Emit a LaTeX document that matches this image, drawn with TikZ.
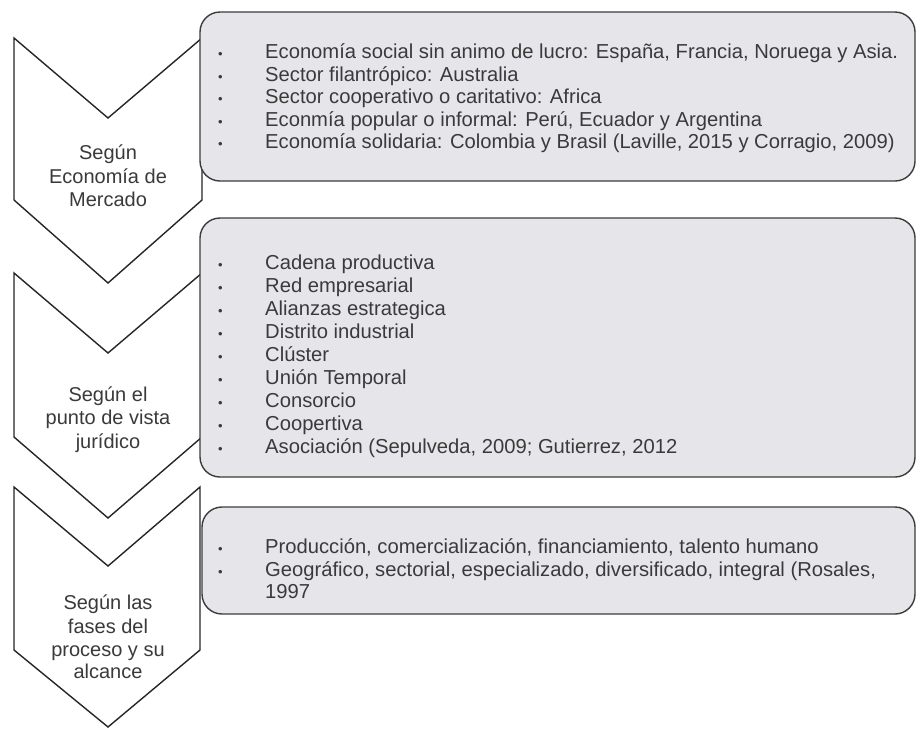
\documentclass[tikz,border=0pt]{standalone}
\usepackage{fontspec}
\setmainfont{Liberation Sans}
\definecolor{panelgray}{RGB}{230,230,234}
\definecolor{txtgray}{RGB}{58,58,58}
\definecolor{edgegray}{RGB}{60,60,60}
\newcommand{\bul}{\makebox[47pt][l]{\fontsize{13}{13}\selectfont\textbullet}}
\begin{document}
\begin{tikzpicture}[x=1pt,y=-1pt,
  chev/.style={draw=black!85,line width=1.4pt,fill=white,line join=miter},
  panel/.style={draw=edgegray,line width=1.4pt,fill=panelgray,rounded corners=20pt},
  itemtxt/.style={anchor=base west,inner sep=0pt,text=txtgray,font=\fontsize{20.2}{23}\selectfont},
  chevtxt/.style={anchor=base,inner sep=0pt,text=txtgray,font=\fontsize{20}{23}\selectfont}]
\useasboundingbox (0,0) rectangle (917,729);
\fill[white] (0,0) rectangle (917,729);

% chevrons
\draw[chev] (14,38) -- (108,118) -- (202,38) -- (202,200) -- (108,283) -- (14,200) -- cycle;
\draw[chev] (14,273) -- (108,353) -- (202,273) -- (202,437) -- (108,518) -- (14,437) -- cycle;
\draw[chev] (14,487) -- (108,566) -- (200,487) -- (200,650) -- (108,727) -- (14,650) -- cycle;

% panels
\draw[panel] (200,12) rectangle (915,181);
\draw[panel] (200,218) rectangle (915,477);
\draw[panel] (202,507) rectangle (915,614);

% chevron texts
\node[chevtxt] (c1a) at (108,159.5) {Según};
\node[chevtxt] (c1b) at (108,183.5) {Economía de};
\node[chevtxt] (c1c) at (108,206.5) {Mercado};

\node[chevtxt] (c2a) at (108,401.5) {Según el};
\node[chevtxt] (c2b) at (108,424.5) {punto de vista};
\node[chevtxt] (c2c) at (108,448.5) {jurídico};

\node[chevtxt] (c3a) at (108,609.5) {Según las};
\node[chevtxt] (c3b) at (108,633.5) {fases del};
\node[chevtxt] (c3c) at (108,656.5) {proceso y su};
\node[chevtxt] (c3d) at (108,678.5) {alcance};

% panel 1 items
\foreach \t [count=\i] in {Economía social sin animo de lucro: España{,} Francia{,} Noruega y Asia.,
  Sector filantrópico: Australia,
  Sector cooperativo o caritativo: Africa,
  Econmía popular o informal: Perú{,} Ecuador y Argentina,
  Economía solidaria: Colombia y Brasil (Laville{,} 2015 y Corragio{,} 2009)}
  \node[itemtxt] (p1i\i) at (218,{58.5+22.6*(\i-1)}) {\bul\t};

% panel 2 items
\foreach \t [count=\i] in {Cadena productiva, Red empresarial, Alianzas estrategica,
  Distrito industrial, Clúster, Unión Temporal, Consorcio, Coopertiva,
  Asociación (Sepulveda{,} 2009; Gutierrez{,} 2012}
  \node[itemtxt] (p2i\i) at (218,{269.5+23*(\i-1)}) {\bul\t};

% panel 3 items
\node[itemtxt] (p3i1) at (218,553.5) {\bul Producción, comercialización, financiamiento, talento humano};
\node[itemtxt] (p3i2) at (218,576) {\bul Geográfico, sectorial, especializado, diversificado, integral (Rosales,};
\node[itemtxt] (p3i3) at (265,598.5) {1997};
\end{tikzpicture}
\end{document}
